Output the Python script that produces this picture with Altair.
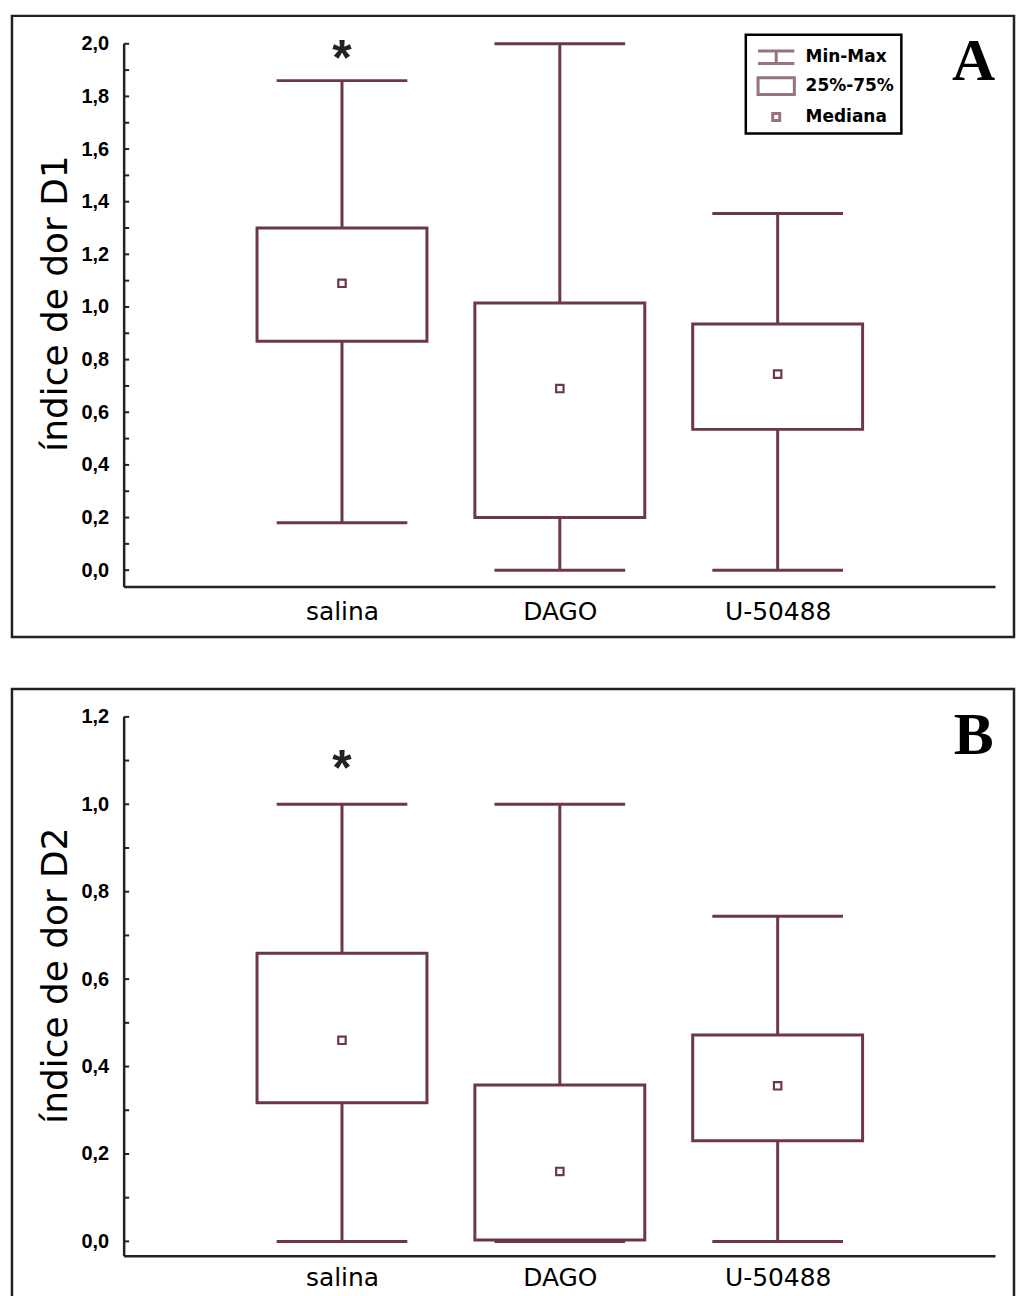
import altair as alt
import pandas as pd

# ---------------- data ----------------
groups = ["salina", "DAGO", "U-50488"]
positions = [1, 2, 3]

# Panel A (índice de dor D1)
a_min = [0.18, 0.0, 0.0]
a_q1 = [0.87, 0.20, 0.535]
a_med = [1.09, 0.69, 0.745]
a_q3 = [1.30, 1.015, 0.935]
a_max = [1.86, 2.0, 1.355]

# Panel B (índice de dor D2)
b_min = [0.0, 0.0, 0.0]
b_q1 = [0.317, 0.003, 0.23]
b_med = [0.46, 0.16, 0.356]
b_q3 = [0.659, 0.358, 0.472]
b_max = [1.0, 1.0, 0.744]

legend_items = ["Min-Max", "25%-75%", "Mediana"]
legend_paths = [
    "M-1.3,-0.45H1.3M0,-0.45V0.45M-1.3,0.45H1.3",
    "M-1.3,-0.6H1.3V0.6H-1.3Z",
    "M-0.25,-0.25H0.25V0.25H-0.25Z",
]

# ---------------- styles ----------------
BOX = "#6c3846"
INK = "#222222"
SANS = "DejaVu Sans"
NUM = "Liberation Sans"
XDOM = [-0.515, 4.085]
W = 1005


def build(mins, q1s, meds, q3s, maxs, ydom, ytop, ybase, ytitle, letter,
          letter_y, star_y, height, xlab_offset, title_y, with_legend):
    df = pd.DataFrame({
        "group": groups, "pos": positions,
        "lo": mins, "q1": q1s, "med": meds, "q3": q3s, "hi": maxs,
    })
    df["box_l"] = df["pos"] - 0.39
    df["box_r"] = df["pos"] + 0.39
    df["cap_l"] = df["pos"] - 0.30
    df["cap_r"] = df["pos"] + 0.30

    xscale = alt.Scale(domain=XDOM, nice=False, zero=False)
    yscale = alt.Scale(domain=ydom, nice=False, zero=False)

    n10 = int(round(ytop / 0.1))
    major = [round(v * 0.1, 1) for v in range(n10 + 1) if v % 2 == 0]
    allticks = [round(v * 0.1, 1) for v in range(n10 + 1)]

    xaxis = alt.Axis(
        values=positions,
        labelExpr="['', 'salina', 'DAGO', 'U-50488'][datum.value]",
        domain=False, ticks=False, grid=False, title=None,
        offset=-xlab_offset, labelFont=SANS, labelFontSize=25,
        labelColor="black", labelPadding=0,
    )
    yaxis = alt.Axis(
        values=major, labelExpr="replace(format(datum.value, '.1f'), '.', ',')",
        domain=False, grid=False, ticks=False,
        offset=-112, labelFont=NUM, labelFontWeight="bold", labelFontSize=20,
        labelColor="black", labelPadding=15,
        title=ytitle, titleFont=SANS, titleFontSize=36, titleFontWeight="normal",
        titleColor="black", titleX=-68, titleY=title_y, titleAngle=270,
        titleAlign="center", titleBaseline="middle",
    )

    def X(f):
        return alt.X(f, type="quantitative", scale=xscale, axis=xaxis)

    def Y(f):
        return alt.Y(f, type="quantitative", scale=yscale, axis=yaxis)

    base = alt.Chart(df)

    whisker = base.mark_rule(color=BOX, strokeWidth=3).encode(
        x=X("pos"), y=Y("lo"), y2="hi")
    cap_hi = base.mark_rule(color=BOX, strokeWidth=3).encode(
        x=X("cap_l"), x2="cap_r", y=Y("hi"))
    cap_lo = base.mark_rule(color=BOX, strokeWidth=3).encode(
        x=X("cap_l"), x2="cap_r", y=Y("lo"))
    box = base.mark_rect(fill="white", stroke=BOX, strokeWidth=3).encode(
        x=X("box_l"), x2="box_r", y=Y("q1"), y2="q3")
    med = base.mark_point(shape="square", size=55, filled=False, color=BOX,
                          strokeWidth=2.2, opacity=1).encode(
        x=X("pos"), y=Y("med"))

    axes_df = pd.DataFrame({"x0": [0.0], "x1": [4.0], "yb": [ybase], "yt": [ytop]})
    yline = alt.Chart(axes_df).mark_rule(color=INK, strokeWidth=2.5).encode(
        x=X("x0"), y=Y("yb"), y2="yt")
    xline = alt.Chart(axes_df).mark_rule(color=INK, strokeWidth=2.5).encode(
        x=X("x0"), x2="x1", y=Y("yb"))

    tick_df = pd.DataFrame({"v": allticks, "x0": [0.0] * len(allticks)})
    ticks = alt.Chart(tick_df).mark_rule(
        color=INK, strokeWidth=2, xOffset=0, x2Offset=5).encode(
        x=X("x0"), x2="x0", y=Y("v"))

    ann_df = pd.DataFrame({"px": [1.0], "py": [star_y], "lx": [3.90],
                           "ly": [letter_y], "star": ["*"], "letter": [letter]})
    star = alt.Chart(ann_df).mark_text(
        font=NUM, fontSize=50, fontWeight="bold", color=INK,
        baseline="middle", dy=4).encode(x=X("px"), y=Y("py"), text="star")
    let = alt.Chart(ann_df).mark_text(
        font="Liberation Serif", fontSize=60, fontWeight="bold", color="black",
        baseline="middle").encode(x=X("lx"), y=Y("ly"), text="letter")

    layers = [yline, xline, ticks, whisker, cap_hi, cap_lo, box, med,
              star, let]

    if with_legend:
        leg_df = pd.DataFrame({"item": legend_items, "lx": [1.0] * 3,
                               "ly": [ydom[0] - 1.0] * 3})
        leg = alt.Chart(leg_df).mark_point(
            clip=True, filled=False, size=784, strokeWidth=3).encode(
            x=X("lx"), y=Y("ly"),
            shape=alt.Shape("item:N", scale=alt.Scale(domain=legend_items,
                                                      range=legend_paths),
                            legend=alt.Legend(
                                title=None, orient="none", legendX=736,
                                legendY=19, strokeColor="black",
                                fillColor="white", padding=7,
                                labelFont=SANS, labelFontSize=17,
                                labelFontWeight="bold",
                                labelColor="black", labelOffset=14,
                                symbolOffset=8,
                                symbolSize=784, symbolStrokeWidth=3,
                                symbolStrokeColor=BOX,
                                symbolFillColor="transparent",
                                rowPadding=1)),
            color=alt.value(BOX))
        layers.append(leg)

    return alt.layer(*layers).properties(width=W, height=height)


panel_a = build(a_min, a_q1, a_med, a_q3, a_max,
                ydom=[-0.254, 2.106], ytop=2.0, ybase=-0.064,
                ytitle="índice de dor D1", letter="A", letter_y=1.93,
                star_y=1.955, height=623, xlab_offset=38, title_y=288,
                with_legend=True)

panel_b = build(b_min, b_q1, b_med, b_q3, b_max,
                ydom=[-0.132, 1.264], ytop=1.2, ybase=-0.034,
                ytitle="índice de dor D2", letter="B", letter_y=1.155,
                star_y=1.088, height=612, xlab_offset=34, title_y=287,
                with_legend=False)

chart = alt.vconcat(panel_a, panel_b, spacing=48).properties(
    padding={"left": 10, "top": 12, "right": 0, "bottom": 0},
    background="white",
).configure_view(stroke=INK, strokeWidth=2.5).configure_legend(strokeWidth=2.5)

chart.save("out.html", embed_options={"renderer": "svg", "actions": False})
